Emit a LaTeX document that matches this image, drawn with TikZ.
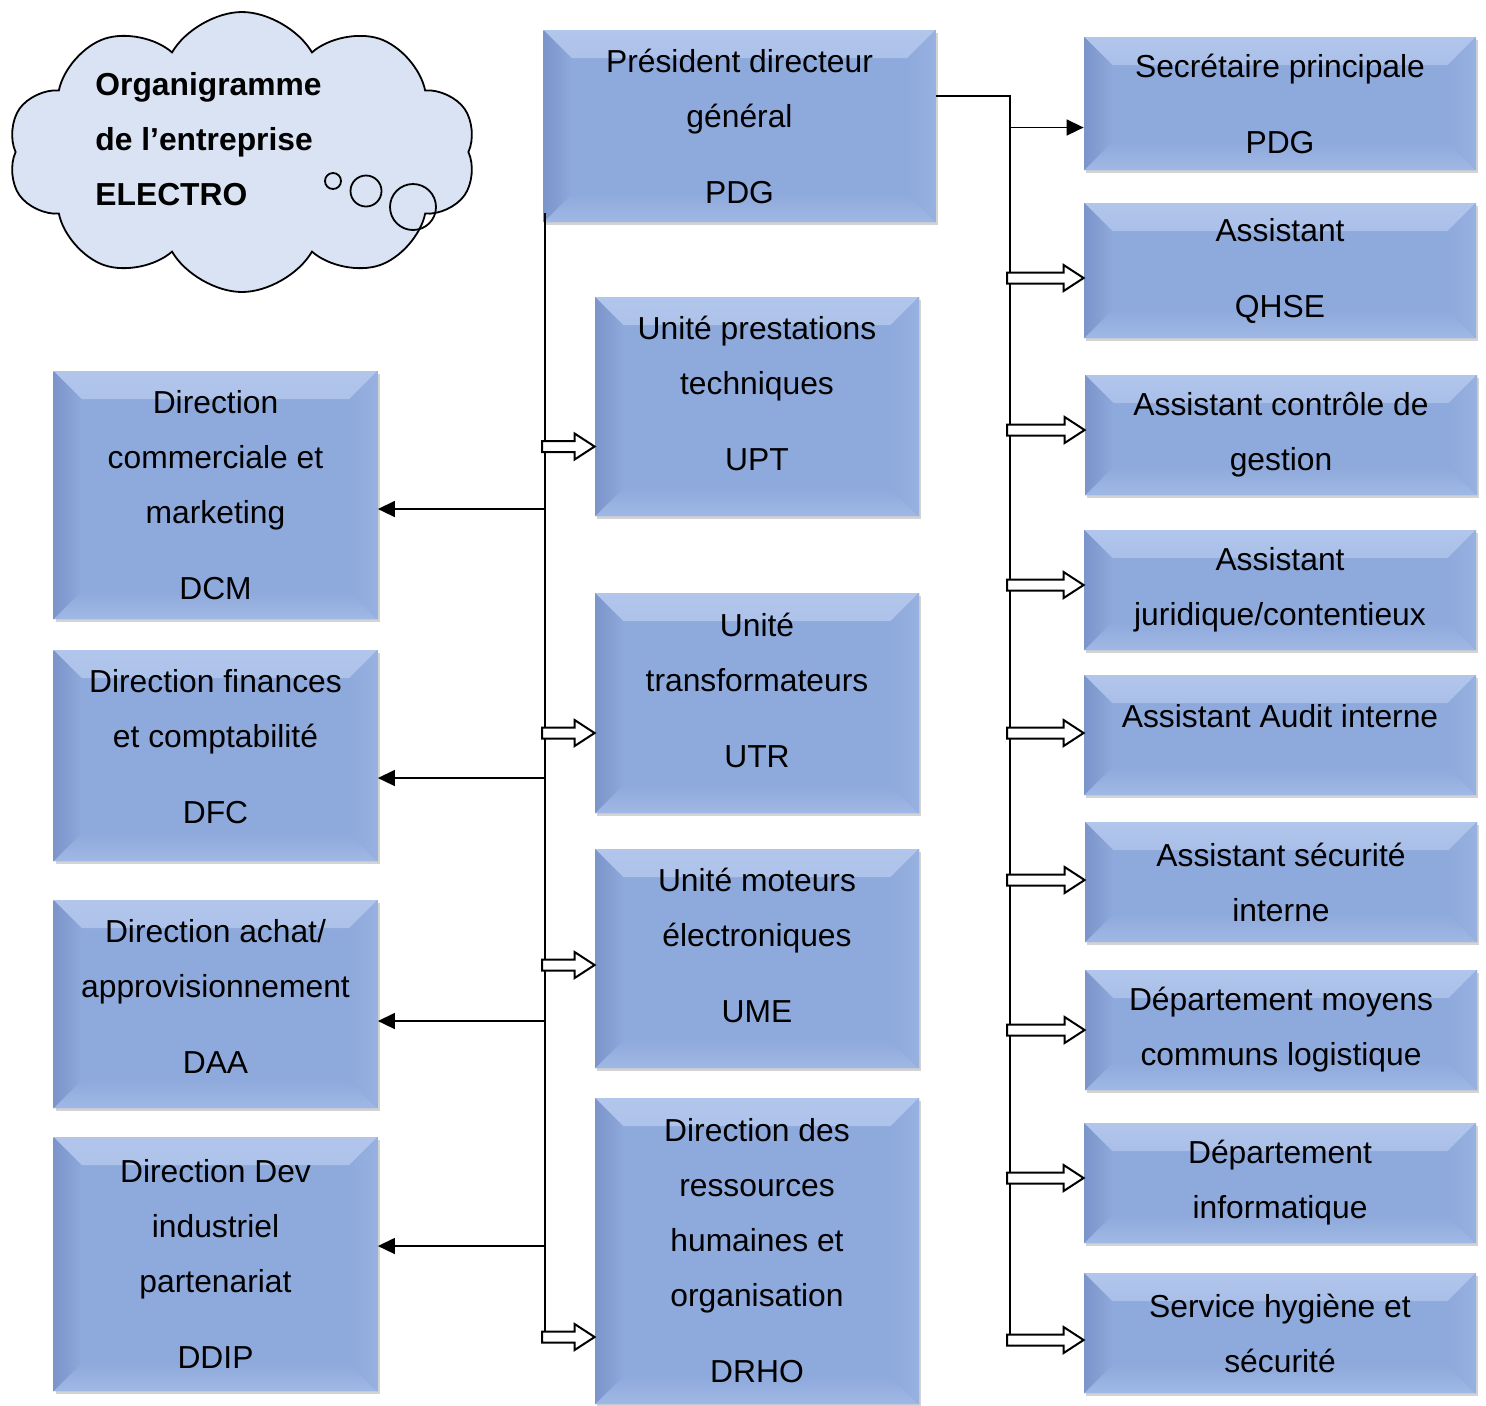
\documentclass[tikz,border=0pt]{standalone}
\usepackage{fontspec}
\setmainfont{Liberation Sans}
\usetikzlibrary{arrows.meta,calc,shapes.symbols,shadows}
\definecolor{boxblue}{RGB}{142,169,219}
\definecolor{bevtop}{RGB}{178,198,236}
\definecolor{bevleft}{RGB}{123,148,202}
\definecolor{bevright}{RGB}{151,177,225}
\definecolor{bevbottom}{RGB}{160,184,229}
\definecolor{cloudblue}{RGB}{218,227,243}
\newcommand{\boxfont}{\fontsize{15.9pt}{27.5pt}\selectfont}
\newcommand{\titlefont}{\fontsize{15.9pt}{27.5pt}\selectfont\bfseries}
\newcommand{\bevels}{%
  \fill[top color=bevtop,bottom color=boxblue] let \p1=(path picture bounding box.south west),\p2=(path picture bounding box.north east) in
    (\x1,\y2) -- (\x2,\y2) -- (\x2-14pt,\y2-14pt) -- (\x1+14pt,\y2-14pt) -- cycle;
  \fill[top color=boxblue,bottom color=bevbottom] let \p1=(path picture bounding box.south west),\p2=(path picture bounding box.north east) in
    (\x1,\y1) -- (\x2,\y1) -- (\x2-14pt,\y1+14pt) -- (\x1+14pt,\y1+14pt) -- cycle;
  \fill[left color=bevleft,right color=boxblue] let \p1=(path picture bounding box.south west),\p2=(path picture bounding box.north east) in
    (\x1,\y1) -- (\x1,\y2) -- (\x1+14pt,\y2-14pt) -- (\x1+14pt,\y1+14pt) -- cycle;
  \fill[left color=boxblue,right color=bevright] let \p1=(path picture bounding box.south west),\p2=(path picture bounding box.north east) in
    (\x2,\y1) -- (\x2,\y2) -- (\x2-14pt,\y2-14pt) -- (\x2-14pt,\y1+14pt) -- cycle;}
\tikzstyle{box}=[rectangle,fill=boxblue,inner sep=0pt,align=center,font=\boxfont,
  drop shadow={shadow xshift=1pt,shadow yshift=-1.5pt,opacity=.35},path picture={\bevels}]
\tikzstyle{wide}=[box,minimum width=196pt]
\tikzstyle{narrow}=[box,minimum width=162pt]
\tikzstyle{arr}=[-{Triangle[length=8.5pt,width=8pt]},draw,line width=.8pt]
\tikzstyle{spine}=[draw,line width=.6pt]
\tikzstyle{hollow}=[draw,fill=white,line width=1pt,to path={let \p1=(\tikztostart),\p2=(\tikztotarget) in
  (\x1-1.5pt,\y1+2.75pt) -- (\x2-10pt,\y1+2.75pt) -- (\x2-10pt,\y1+6.5pt) -- (\x2,\y1)
  -- (\x2-10pt,\y1-6.5pt) -- (\x2-10pt,\y1-2.75pt) -- (\x1-1.5pt,\y1-2.75pt) -- cycle}]

\begin{document}
\begin{tikzpicture}[x=0.5pt,y=-0.5pt]
  \useasboundingbox (0,0) rectangle (1486,1405);

  % title cloud
  \node[cloud,cloud puffs=10,cloud puff arc=120,aspect=1.67,draw,line width=.9pt,fill=cloudblue,
        minimum width=234pt,minimum height=140pt] (bubble) at (242,152) {};
  \draw[line width=.9pt] (333,181) circle[radius=4pt];
  \draw[line width=.9pt] (366,191) circle[radius=7.75pt];
  \draw[line width=.9pt] (413,207) circle[radius=11.5pt];
  \node[anchor=west,align=left,inner sep=0pt,font=\titlefont] (title) at (95,139)
    {Organigramme\\de l’entreprise\\ELECTRO};

  % top
  \node[wide,minimum height=96pt] (PDG) at (739.5,126) {Président directeur\\général\\[10.5pt]PDG};

  % right column
  \node[wide,minimum height=66.5pt] (SEC) at (1280,103.5) {Secrétaire principale\\[10.5pt]PDG};
  \node[wide,minimum height=67.5pt] (QHSE) at (1280,270.5) {Assistant\\[10.5pt]QHSE};
  \node[wide,minimum height=60pt] (CG) at (1281,435) {Assistant contrôle de\\gestion};
  \node[wide,minimum height=60pt] (JUR) at (1280,590) {Assistant\\juridique/contentieux};
  \node[wide,minimum height=60pt,text depth=19pt] (AUD) at (1280,735) {Assistant Audit interne};
  \node[wide,minimum height=60pt] (SECU) at (1281,882) {Assistant sécurité\\interne};
  \node[wide,minimum height=60pt] (DMCL) at (1281,1030) {Département moyens\\communs logistique};
  \node[wide,minimum height=60pt] (INFO) at (1280,1183) {Département\\informatique};
  \node[wide,minimum height=60pt] (HYG) at (1280,1333) {Service hygiène et\\sécurité};

  % middle column
  \node[narrow,minimum height=109.5pt,text depth=13pt] (UPT) at (757,406.5) {Unité prestations\\techniques\\[10.5pt]UPT};
  \node[narrow,minimum height=110pt,text depth=13pt] (UTR) at (757,703) {Unité\\transformateurs\\[10.5pt]UTR};
  \node[narrow,minimum height=109.5pt,text depth=13pt] (UME) at (757,958.5) {Unité moteurs\\électroniques\\[10.5pt]UME};
  \node[narrow,minimum height=153pt] (DRHO) at (757,1251)
    {Direction des\\ressources\\humaines et\\organisation\\[10.5pt]DRHO};

  % left column
  \node[narrow,minimum height=124pt] (DCM) at (215.5,495) {Direction\\commerciale et\\marketing\\[10.5pt]DCM};
  \node[narrow,minimum height=105.5pt,text depth=9pt] (DFC) at (215.5,755.5) {Direction finances\\et comptabilité\\[10.5pt]DFC};
  \node[narrow,minimum height=104pt,text depth=8pt] (DAA) at (215.5,1004) {Direction achat/\\approvisionnement\\[10.5pt]DAA};
  \node[narrow,minimum height=127pt] (DDIP) at (215.5,1264) {Direction Dev\\industriel\\partenariat\\[10.5pt]DDIP};

  % right branch
  \coordinate (R0) at (1010,96);
  \coordinate (s0) at ([yshift=-12pt]SEC.west);
  \draw[spine] (PDG.east |- R0) -- (R0) -- ([yshift=-3.5pt]R0 |- HYG.west);
  \draw[arr] (R0 |- s0) -- (s0);
  \foreach \b/\s in {QHSE/-3.75,CG/2.5,JUR/2.5,AUD/1,SECU/1,DMCL/0,INFO/2.5,HYG/-3.5}{
    \coordinate (t\b) at ([yshift=\s pt]\b.west);
    \coordinate (r\b) at (R0 |- t\b);
    \draw[hollow] (r\b) to (t\b);
  }

  % left branch
  \coordinate (L0) at (545,213);
  \coordinate (a1) at ([yshift=-20pt]UPT.west);
  \coordinate (a2) at ([yshift=-15pt]UTR.west);
  \coordinate (a3) at ([yshift=-3.25pt]UME.west);
  \coordinate (a4) at ([yshift=-43pt]DRHO.west);
  \coordinate (b1) at ([yshift=-7pt]DCM.east);
  \coordinate (b2) at ([yshift=-11.25pt]DFC.east);
  \coordinate (b3) at ([yshift=-8.5pt]DAA.east);
  \coordinate (b4) at ([yshift=9pt]DDIP.east);
  \draw[spine] (L0) -- (L0 |- a4);
  \foreach \i in {1,...,4}{
    \coordinate (l\i) at (L0 |- a\i);
    \draw[hollow] (l\i) to (a\i);
    \draw[arr] (L0 |- b\i) -- (b\i);
  }
\end{tikzpicture}
\end{document}
